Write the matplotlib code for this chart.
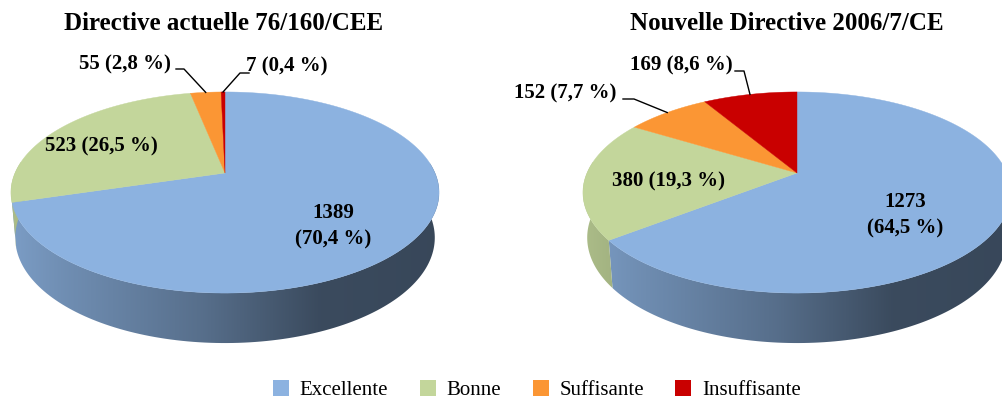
import numpy as np
import matplotlib
matplotlib.use('Agg')
import matplotlib.pyplot as plt
from matplotlib.patches import Patch, Polygon

plt.rcParams['font.family'] = ['Liberation Serif', 'DejaVu Serif']

# data
categories = ['Excellente', 'Bonne', 'Suffisante', 'Insuffisante']
colors = ['#8cb2e0', '#c3d69b', '#fb9634', '#c90000']
title_left = 'Directive actuelle 76/160/CEE'
title_right = 'Nouvelle Directive 2006/7/CE'
values_left = [1389, 523, 55, 7]
values_right = [1273, 380, 152, 169]
labels_left = ['1389\n(70,4 %)', '523 (26,5 %)', '55 (2,8 %)', '7 (0,4 %)']
labels_right = ['1273\n(64,5 %)', '380 (19,3 %)', '152 (7,7 %)', '169 (8,6 %)']

W, H = 1002, 403
fig = plt.figure(figsize=(W / 100, H / 100), dpi=100)
ax = fig.add_axes([0, 0, 1, 1])

R = 210
C = 0.194
A = -63.2
B = 173


# unit disc -> picture, with a bit of perspective
def top_pt(cx, ang):
    u, v = np.sin(ang), np.cos(ang)
    d = 1 + C * v
    return cx + R * u / d, (A * v + B) / d


def bottom_pt(cx, ang):
    x, y = top_pt(cx, ang)
    return cx + (x - cx) * 0.98, y + 44 - 6 * np.cos(ang)


def shade(x):
    # wall gets darker from left to right
    return np.interp(x, [0, 0.12, 0.45, 0.72, 1], [0.88, 0.80, 0.62, 0.42, 0.40])


def draw_pie(cx, values):
    fr = np.array(values) / sum(values)
    edges = np.concatenate([[0], np.cumsum(fr)]) * 2 * np.pi
    # walls first
    for i in range(len(values)):
        a = np.linspace(edges[i], edges[i + 1], 200)
        a = a[np.cos(a) < 0.12]
        if len(a) < 2:
            continue
        xt, yt = top_pt(cx, a)
        xb, yb = bottom_pt(cx, a)
        poly = Polygon(np.r_[np.c_[xt, yt], np.c_[xb, yb][::-1]], closed=True,
                       fc='none', ec='none', transform=ax.transData)
        ax.add_patch(poly)
        grad = shade(np.linspace(0, 1, 256))[None, :, None] * np.array(matplotlib.colors.to_rgb(colors[i]))
        im = ax.imshow(grad, extent=[cx - 214, cx + 214, 350, 90], aspect='auto', zorder=1)
        im.set_clip_path(poly)
    # top face
    for i in range(len(values)):
        a = np.linspace(edges[i], edges[i + 1], 200)
        xt, yt = top_pt(cx, a)
        ax.fill(np.r_[cx, xt], np.r_[B, yt], color=colors[i], lw=0.3, zorder=2)
    return edges


edges_l = draw_pie(225, values_left)
edges_r = draw_pie(797, values_right)

fs = 15
ax.text(224, 23, title_left, ha='center', va='center', fontsize=18, fontweight='bold')
ax.text(787, 23, title_right, ha='center', va='center', fontsize=18, fontweight='bold')

ax.text(333, 226, labels_left[0], ha='center', va='center', fontsize=fs, fontweight='bold', linespacing=1.45)
ax.text(101, 146, labels_left[1], ha='center', va='center', fontsize=fs, fontweight='bold')
ax.text(125, 64, labels_left[2], ha='center', va='center', fontsize=fs, fontweight='bold')
ax.text(287, 66, labels_left[3], ha='center', va='center', fontsize=fs, fontweight='bold')

ax.text(905, 215, labels_right[0], ha='center', va='center', fontsize=fs, fontweight='bold', linespacing=1.45)
ax.text(669, 181, labels_right[1], ha='center', va='center', fontsize=fs, fontweight='bold')
ax.text(565, 93, labels_right[2], ha='center', va='center', fontsize=fs, fontweight='bold')
ax.text(681, 65, labels_right[3], ha='center', va='center', fontsize=fs, fontweight='bold')


# leader lines go from the label to the middle of the slice rim
def leader(cx, edges, i, x0, x1, y):
    tx, ty = top_pt(cx, (edges[i] + edges[i + 1]) / 2)
    ax.plot([x0, x1, tx], [y, y, ty], color='black', lw=1, zorder=3, solid_joinstyle='round')


leader(225, edges_l, 2, 176, 184, 69)
leader(225, edges_l, 3, 249, 240, 73)
leader(797, edges_r, 2, 623, 634, 99)
leader(797, edges_r, 3, 735, 744, 71)

handles = [Patch(fc=c, ec='none') for c in colors]
ax.legend(handles, categories, loc='center', bbox_to_anchor=(537 / W, 1 - 390 / H), ncol=4, frameon=False,
          fontsize=15, handlelength=0.77, handleheight=0.77, handletextpad=0.53, columnspacing=1.5,
          borderpad=0, labelspacing=0)

ax.set_xlim(0, W)
ax.set_ylim(H, 0)
ax.axis('off')
fig.savefig('out.png', dpi=100)
